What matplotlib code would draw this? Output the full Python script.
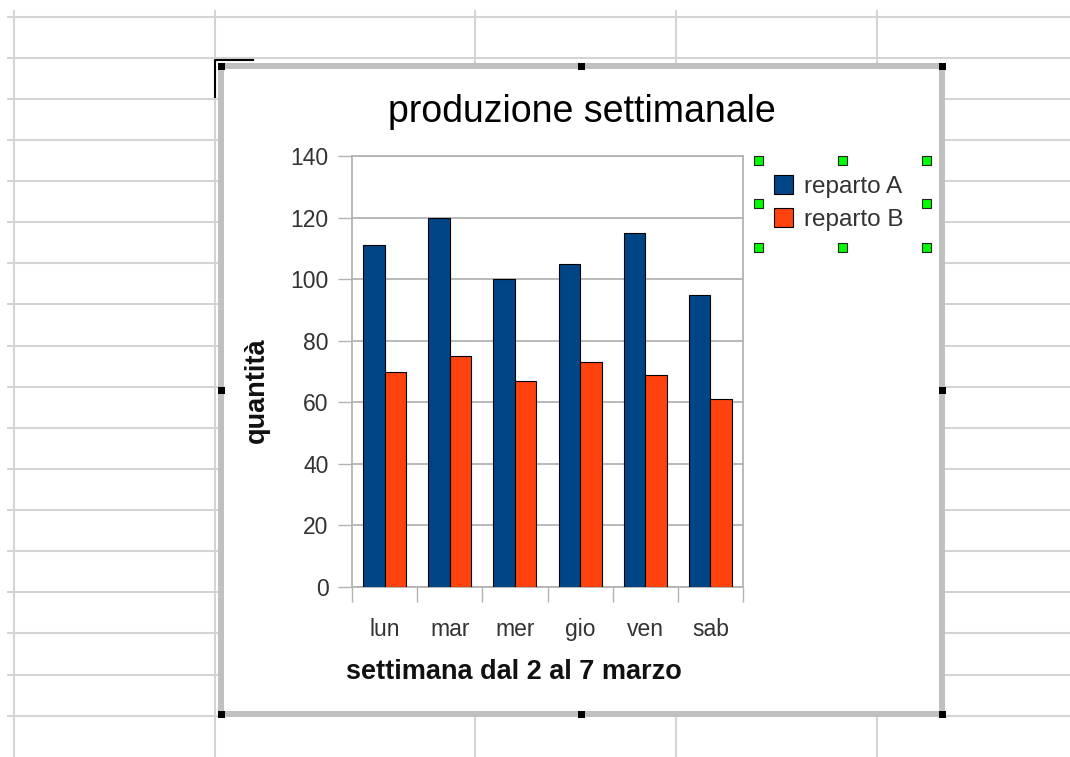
import numpy as np
import matplotlib
matplotlib.use("Agg")
import matplotlib.pyplot as plt
from matplotlib.patches import Rectangle

plt.rcParams['font.family'] = ['Liberation Sans', 'DejaVu Sans']

# dati del grafico
giorni = ['lun', 'mar', 'mer', 'gio', 'ven', 'sab']
reparto_a = [111, 120, 100, 105, 115, 95]
reparto_b = [70, 75, 67, 73, 69, 61]
serie = ['reparto A', 'reparto B']
y_ticks = [0, 20, 40, 60, 80, 100, 120, 140]
titolo = 'produzione settimanale'
titolo_x = 'settimana dal 2 al 7 marzo'
titolo_y = 'quantità'

colori = ['#004586', '#ff420e']
grigio = '#b3b3b3'

W, H = 1070, 757
fig = plt.figure(figsize=(W / 100, H / 100), dpi=100)

# foglio di calcolo sullo sfondo, in pixel
bg = fig.add_axes([0, 0, 1, 1])
bg.set_xlim(0, W)
bg.set_ylim(H, 0)
bg.axis('off')
righe = [17, 58, 99, 140, 181, 222, 263, 304, 346, 387, 428, 469, 510, 551, 592, 633, 675, 716]
colonne = [14, 215, 475, 676, 877]
bg.hlines(righe, 7, W, color='#d4d4d4', lw=1.5, zorder=1)
bg.vlines(colonne, 10, H, color='#d4d4d4', lw=1.5, zorder=1)

# cursore della cella
bg.plot([253, 215, 215], [60, 60, 97], color='black', lw=1.5, zorder=2)

# cornice dell'oggetto grafico
bg.add_patch(Rectangle((221, 66), 721, 648, facecolor='white', edgecolor='#c0c0c0', lw=4.3, zorder=3))
for hx in [221, 581.5, 942]:
    for hy in [66, 390, 714]:
        if hx == 581.5 and hy == 390:
            continue
        bg.add_patch(Rectangle((hx - 3.5, hy - 3.5), 7, 7, facecolor='black', edgecolor='none', zorder=4))

# maniglie verdi della legenda selezionata
for gx in [758, 842, 926]:
    for gy in [160.5, 203, 247]:
        if gx == 842 and gy == 203:
            continue
        bg.add_patch(Rectangle((gx - 4.5, gy - 4.5), 9, 9, facecolor='#00ff00', edgecolor='#222222', lw=0.8, zorder=4))

bg.text(582, 122.5, titolo, ha='center', va='baseline', fontsize=27, color='black', zorder=5)
bg.text(513.5, 679, titolo_x, ha='center', va='baseline', fontsize=19.5, weight='bold', color='#111111', zorder=5)
bg.text(257, 390, titolo_y, ha='center', va='center', rotation=90, fontsize=19.5, weight='bold', color='#111111', zorder=5)

# area del diagramma
ax = fig.add_axes([352 / W, 1 - 587 / H, 391 / W, 431 / H], zorder=6)
ax.set_facecolor('none')
x = np.arange(len(giorni))
w = 0.33
b1 = ax.bar(x - w / 2, reparto_a, w, color=colori[0], edgecolor='black', lw=0.8, zorder=3, label=serie[0])
b2 = ax.bar(x + w / 2, reparto_b, w, color=colori[1], edgecolor='black', lw=0.8, zorder=3, label=serie[1])

ax.set_xlim(-0.5, len(giorni) - 0.5)
ax.set_ylim(0, 140)
ax.set_yticks(y_ticks)
ax.yaxis.grid(True, color=grigio, lw=1.3, zorder=0)
ax.set_xticks(x)
ax.set_xticklabels(giorni)
ax.set_xticks(np.arange(-0.5, len(giorni)), minor=True)
ax.tick_params(axis='x', which='major', length=0, pad=22, labelsize=16.5, labelcolor='#333333')
ax.tick_params(axis='x', which='minor', length=11, width=1, color=grigio, direction='out')
ax.tick_params(axis='y', length=10, width=1, color=grigio, pad=7, labelsize=16.5, labelcolor='#333333')
for s in ax.spines.values():
    s.set_color(grigio)
    s.set_linewidth(1.3)

leg = ax.legend(handles=[b1, b2], loc='upper left', bbox_to_anchor=(774, 175), bbox_transform=bg.transData,
                frameon=False, fontsize=17.5, borderpad=0, handlelength=0.8, handleheight=0.8,
                handletextpad=0.45, labelspacing=0.42, borderaxespad=0)
for t in leg.get_texts():
    t.set_color('#333333')

fig.savefig('out.png', dpi=100)
